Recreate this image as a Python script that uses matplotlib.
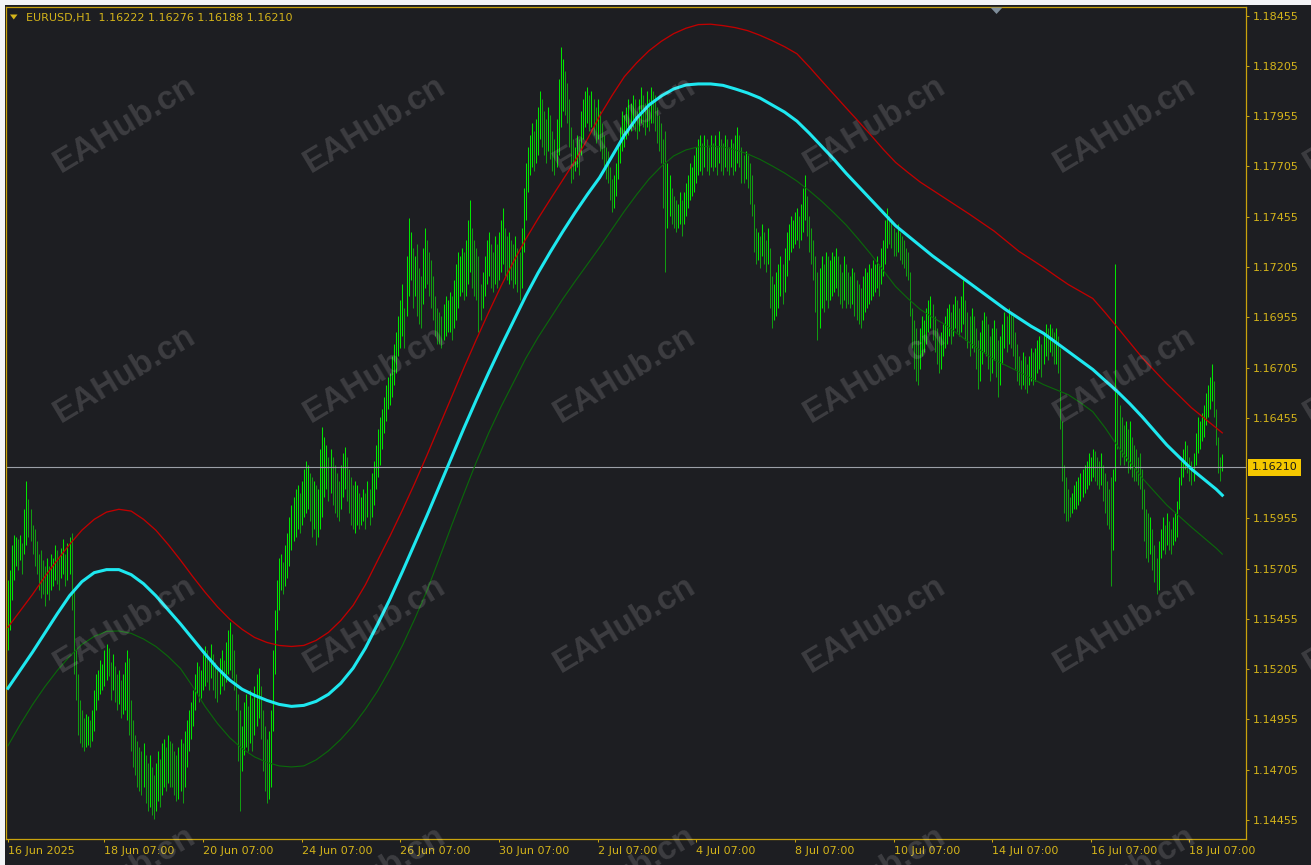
import numpy as np
import matplotlib
matplotlib.use("Agg")
import matplotlib.pyplot as plt
from matplotlib.patches import Rectangle, Polygon
from matplotlib.transforms import blended_transform_factory

# EURUSD H1 - barres en pips au-dessus de BASE
BASE = 1.14
PIP = 0.0001

highs = [
    165, 170, 182, 187, 186, 185, 187, 183, 200, 214,
    205, 200, 192, 190, 184, 178, 180, 175, 172, 176,
    172, 178, 176, 182, 180, 176, 181, 185, 178, 183,
    186, 188, 160, 130, 118, 105, 100, 96, 98, 97,
    95, 100, 110, 118, 120, 125, 123, 130, 133, 131,
    124, 128, 122, 118, 120, 115, 118, 124, 130, 126,
    105, 95, 88, 85, 82, 80, 84, 78, 74, 78,
    72, 68, 74, 80, 76, 84, 86, 82, 88, 85,
    84, 80, 78, 82, 86, 84, 90, 95, 100, 104,
    110, 118, 124, 122, 120, 128, 132, 130, 126, 133,
    128, 124, 120, 126, 130, 125, 134, 140, 144, 138,
    130, 118, 108, 100, 92, 104, 108, 102, 110, 106,
    112, 118, 121, 112, 100, 92, 86, 90, 100, 130,
    150, 165, 176, 178, 174, 182, 188, 196, 202, 206,
    210, 212, 208, 214, 220, 224, 222, 218, 216, 214,
    212, 210, 230, 241, 236, 232, 226, 230, 226, 222,
    218, 214, 222, 228, 231, 226, 220, 216, 212, 214,
    212, 208, 206, 210, 208, 214, 210, 218, 224, 232,
    240, 246, 250, 256, 262, 266, 268, 276, 282, 288,
    296, 304, 312, 300, 326, 345, 338, 330, 326, 332,
    320, 316, 330, 340, 334, 328, 324, 316, 306, 300,
    298, 296, 302, 306, 304, 308, 306, 314, 322, 328,
    326, 330, 328, 334, 344, 354, 340, 334, 330, 326,
    312, 318, 326, 334, 338, 332, 328, 336, 332, 338,
    344, 350, 340, 336, 338, 334, 332, 336, 330, 328,
    340, 360, 372, 380, 386, 392, 388, 394, 400, 408,
    404, 398, 394, 400, 396, 388, 384, 394, 414, 430,
    424, 418, 412, 404, 390, 384, 380, 386, 384, 398,
    404, 408, 410, 406, 408, 404, 400, 404, 398, 392,
    386, 380, 378, 370, 364, 366, 372, 382, 390, 398,
    396, 400, 404, 402, 406, 404, 398, 404, 410, 406,
    402, 408, 404, 410, 408, 406, 400, 396, 392, 384,
    388, 372, 366, 360, 356, 354, 352, 358, 354, 358,
    362, 366, 372, 370, 376, 380, 384, 386, 382, 386,
    384, 380, 386, 382, 386, 380, 388, 384, 382, 386,
    384, 380, 384, 382, 386, 390, 386, 380, 376, 378,
    376, 372, 366, 352, 340, 338, 336, 342, 338, 334,
    340, 330, 316, 312, 318, 322, 326, 322, 330, 338,
    342, 346, 344, 348, 350, 346, 352, 360, 366, 356,
    346, 340, 334, 326, 318, 320, 326, 322, 328, 326,
    324, 328, 326, 330, 326, 322, 318, 326, 322, 318,
    316, 320, 318, 314, 312, 310, 316, 320, 318, 322,
    320, 324, 322, 326, 322, 330, 334, 344, 350, 346,
    344, 340, 338, 342, 338, 336, 334, 330, 328, 318,
    300, 294, 290, 284, 290, 296, 294, 300, 304, 306,
    302, 296, 290, 286, 288, 292, 296, 300, 302, 298,
    302, 306, 304, 300, 306, 314, 304, 298, 296, 300,
    296, 290, 284, 288, 294, 298, 296, 292, 286, 290,
    294, 290, 284, 286, 292, 298, 296, 300, 298, 296,
    288, 282, 276, 274, 278, 276, 272, 276, 280, 278,
    280, 284, 286, 282, 288, 292, 290, 292, 290, 288,
    290, 286, 280, 244, 222, 216, 210, 206, 208, 212,
    214, 216, 218, 220, 222, 224, 228, 226, 230, 229,
    226, 224, 228, 222, 218, 214, 210, 216, 220, 322,
    258, 252, 246, 242, 244, 240, 244, 236, 232, 230,
    226, 228, 220, 210, 200, 198, 196, 190, 182, 176,
    184, 190, 196, 192, 198, 194, 190, 196, 198, 204,
    216, 224, 230, 234, 232, 226, 224, 228, 238, 246,
    244, 248, 252, 258, 262, 266, 272, 264, 250, 236,
    226, 227.6,
]

lows = [
    130, 140, 155, 165, 172, 170, 175, 168, 178, 182,
    186, 184, 178, 172, 168, 160, 156, 158, 152, 158,
    155, 160, 162, 165, 163, 160, 166, 168, 162, 165,
    168, 150, 118, 105, 88, 84, 82, 80, 82, 83,
    82, 85, 90, 100, 105, 108, 110, 112, 115, 117,
    105, 110, 104, 100, 103, 96, 98, 100, 95, 88,
    80, 72, 68, 62, 60, 58, 62, 54, 50, 52,
    48, 46, 50, 55, 52, 58, 62, 60, 64, 62,
    62, 58, 55, 56, 60, 54, 62, 72, 80, 86,
    92, 100, 108, 104, 106, 110, 112, 114, 110, 116,
    110, 106, 104, 108, 112, 110, 114, 118, 120, 116,
    110, 100, 75, 50, 70, 78, 82, 80, 84, 80,
    88, 92, 96, 86, 70, 60, 54, 56, 62, 90,
    118, 140, 150, 160, 158, 162, 166, 172, 180, 184,
    186, 190, 188, 192, 196, 198, 200, 194, 186, 190,
    182, 186, 190, 196, 206, 210, 204, 208, 202, 198,
    196, 194, 200, 206, 210, 204, 198, 192, 190, 188,
    192, 190, 192, 194, 190, 196, 192, 196, 202, 210,
    216, 222, 230, 238, 244, 250, 252, 256, 262, 268,
    276, 280, 286, 280, 296, 306, 314, 300, 306, 296,
    292, 290, 302, 310, 312, 306, 300, 294, 286, 282,
    282, 280, 284, 286, 288, 288, 284, 290, 294, 300,
    306, 308, 304, 306, 312, 318, 310, 306, 304, 288,
    294, 300, 306, 312, 316, 310, 308, 312, 310, 314,
    318, 322, 316, 314, 312, 314, 310, 312, 308, 304,
    310, 328, 344, 358, 366, 370, 368, 372, 376, 384,
    380, 376, 372, 378, 374, 368, 366, 370, 376, 390,
    398, 396, 392, 380, 362, 364, 368, 370, 366, 376,
    384, 390, 392, 388, 390, 386, 382, 384, 378, 374,
    368, 364, 362, 354, 348, 350, 356, 364, 372, 378,
    380, 384, 386, 388, 390, 388, 384, 388, 392, 390,
    386, 390, 388, 392, 392, 388, 382, 378, 372, 350,
    318, 340, 346, 342, 340, 338, 340, 342, 336, 342,
    346, 350, 354, 356, 358, 362, 366, 368, 366, 370,
    368, 366, 370, 368, 370, 366, 372, 368, 366, 370,
    368, 366, 370, 366, 368, 372, 370, 362, 362, 364,
    360, 352, 346, 328, 322, 324, 320, 326, 322, 318,
    322, 300, 290, 294, 296, 300, 306, 302, 308, 316,
    324, 328, 330, 332, 334, 330, 334, 338, 344, 336,
    328, 322, 314, 298, 284, 290, 300, 298, 304, 300,
    304, 306, 308, 310, 306, 302, 300, 304, 300, 302,
    300, 302, 296, 294, 292, 290, 294, 298, 300, 302,
    304, 306, 308, 310, 306, 312, 316, 322, 330, 332,
    330, 326, 326, 328, 324, 322, 320, 316, 314, 296,
    280, 270, 264, 262, 270, 276, 278, 282, 288, 290,
    284, 278, 272, 268, 270, 276, 280, 282, 286, 282,
    286, 290, 288, 286, 288, 292, 284, 280, 276, 280,
    278, 270, 260, 264, 272, 278, 276, 270, 264, 268,
    274, 266, 256, 262, 272, 280, 278, 282, 280, 276,
    270, 264, 262, 260, 262, 260, 258, 262, 264, 262,
    264, 268, 270, 266, 272, 276, 274, 278, 276, 272,
    272, 268, 240, 214, 198, 194, 194, 196, 198, 200,
    200, 202, 204, 206, 208, 210, 212, 214, 216, 214,
    212, 210, 212, 204, 198, 192, 190, 162, 180, 214,
    230, 222, 226, 222, 224, 218, 220, 216, 214, 214,
    212, 210, 200, 184, 176, 174, 178, 170, 164, 158,
    160, 176, 180, 178, 182, 180, 178, 182, 184, 186,
    200, 212, 216, 220, 218, 214, 212, 214, 222, 228,
    230, 234, 236, 242, 246, 250, 254, 246, 232, 218,
    214, 218.8,
]

# bandes (pips), une valeur toutes les 6 barres + derniere barre
band_idx = list(range(0, 589, 6)) + [591]
upper_band = [
    141.3, 149.5, 157.7, 166.5, 174.7, 182.5, 189.6, 195, 198.6, 200,
    199.1, 195, 189.6, 182.5, 174.7, 166.5, 158.7, 151.5, 145.3, 140.3,
    136.3, 133.8, 132.3, 131.8, 132.3, 134.8, 138.8, 144.7, 152.2, 162.5,
    174.7, 186.8, 199.6, 213, 227, 241.5, 256, 270.5, 284.5, 298,
    311, 323, 334.3, 344.5, 354.2, 363.7, 373.2, 384, 395.6, 405.7,
    415.1, 422, 428, 432.7, 436.5, 439.2, 441, 441.2, 440.5, 439.5,
    438, 435.7, 433, 430, 426.5, 420, 413.1, 406.3, 399.5, 392.8,
    386, 379, 372.5, 367.5, 362.7, 358.7, 354.7, 350.7, 346.7, 342.5,
    338.3, 333.3, 328.3, 324.3, 320.3, 316, 311.8, 308.3, 304.8, 297.8,
    290.4, 282.9, 275.4, 268.9, 262.4, 256.5, 250.5, 245.5, 240.5, 238,
]
mid_band = [
    111, 120, 129, 138.5, 148, 157, 164, 168.5, 170, 170,
    167.5, 163, 157, 150, 143, 135.5, 128, 121, 115, 110.5,
    107.5, 105, 103, 102, 102.5, 104.5, 108, 113.5, 121, 131,
    143, 155.5, 169, 183, 197, 211.5, 226, 240.5, 254.5, 268,
    281, 293.5, 306, 317.5, 328, 338, 347.5, 356.5, 365, 375.5,
    386, 394.5, 401, 405.5, 409, 411, 411.5, 411.5, 410.8, 409,
    407, 404.5, 401, 397.5, 393, 387, 380.5, 374, 367, 360.5,
    354, 347.5, 341, 336, 331, 326, 321.5, 317, 312.5, 308,
    303.5, 299, 295, 291, 287.5, 283, 278.5, 274, 269.5, 264,
    258.5, 252.5, 246, 239, 232, 226, 220, 215, 210, 207,
]
lower_band = [
    82.4, 93, 102.9, 111.8, 119.8, 126.8, 132.8, 136.8, 139.3, 139.5,
    138.3, 135.5, 131.8, 126.8, 120.8, 111.8, 101.9, 93.5, 86.4, 81,
    76.9, 74.2, 72.4, 71.9, 72.4, 75.4, 79.9, 85.6, 92.4, 100.6,
    109.8, 120.6, 132.3, 145.5, 159.7, 175.7, 192.1, 208, 223.6, 238,
    251, 263, 275, 285.5, 295, 304.5, 313.3, 321.8, 330.3, 339.3,
    348.2, 356.5, 364.2, 370.5, 375.7, 378.7, 380.2, 380.6, 380.2, 378.7,
    376.7, 374, 370.7, 367.2, 363.2, 358.4, 353.2, 347.4, 341.3, 334.2,
    326.8, 318.8, 310.8, 304.8, 299.4, 295.4, 291.9, 287.4, 282.9, 278.6,
    274.4, 271.4, 268.4, 265.2, 262, 259.5, 257, 253, 248.5, 240.5,
    231.5, 223.5, 215.6, 208.8, 202.1, 196.6, 191.1, 185.9, 180.7, 177.7,
]

tick_idx = [0, 47, 95, 143, 191, 239, 287, 335, 383, 431, 479, 527, 575]
tick_labels = ["16 Jun 2025", "18 Jun 07:00", "20 Jun 07:00", "24 Jun 07:00",
               "26 Jun 07:00", "30 Jun 07:00", "2 Jul 07:00", "4 Jul 07:00",
               "8 Jul 07:00", "10 Jul 07:00", "14 Jul 07:00", "16 Jul 07:00",
               "18 Jul 07:00"]
price_ticks = [1.14455, 1.14705, 1.14955, 1.15205, 1.15455, 1.15705, 1.15955,
               1.16455, 1.16705, 1.16955, 1.17205, 1.17455, 1.17705, 1.17955,
               1.18205, 1.18455]
last_price = 1.16210
title = "EURUSD,H1  1.16222 1.16276 1.16188 1.16210"

# couleurs
BG = "#1d1e22"
GOLD = "#c9a30c"
GOLD_TXT = "#d4b41a"
UP = "#00e600"
DOWN = "#119c11"

W, H = 1311, 865
fig = plt.figure(figsize=(W / 100, H / 100), dpi=100, facecolor=BG)

def fx(x):
    return x / W

def fy(y):
    return 1 - y / H

# zone du graphique en pixels
L, R, T, B = 5.5, 1245.7, 6.5, 839.0
ax = fig.add_axes([fx(L), fy(B), (R - L) / W, (B - T) / H])
ax.set_facecolor(BG)

hi = BASE + np.array(highs) * PIP
lo = BASE + np.array(lows) * PIP
x = np.arange(len(hi))
mid = (hi + lo) / 2
up = np.r_[True, mid[1:] >= mid[:-1]]
cols = [UP if u else DOWN for u in up]
ax.vlines(x, lo, hi, colors=cols, linewidth=0.72, snap=True, zorder=2)

bx = np.array(band_idx)
ax.plot(bx, BASE + np.array(upper_band) * PIP, color="#c00000", lw=0.95, zorder=3)
ax.plot(bx, BASE + np.array(lower_band) * PIP, color="#0a6a0a", lw=0.8, zorder=3)
ax.plot(bx, BASE + np.array(mid_band) * PIP, color="#1ee8f0", lw=2.2, zorder=4)

ax.axhline(last_price, color="#9ca0a8", lw=0.8, zorder=2.5)

ax.set_xlim(-1.17, 602.4)
ax.set_ylim(1.143606, 1.185)

ax.set_xticks(tick_idx)
ax.set_xticklabels(tick_labels, ha="left")
ax.yaxis.tick_right()
ax.set_yticks(price_ticks)
ax.set_yticklabels(["%.5f" % p for p in price_ticks])
ax.tick_params(axis="both", direction="out", length=2.2, width=0.75,
               color=GOLD, labelcolor=GOLD_TXT, labelsize=8, pad=3)
for s in ax.spines.values():
    s.set_color(GOLD)
    s.set_linewidth(0.9)

# etiquette du prix courant
tr = blended_transform_factory(ax.transAxes, ax.transData)
ax.text(1 + (1251.5 - R) / (R - L), last_price, "%.5f" % last_price, transform=tr,
        ha="left", va="center", fontsize=8, color="#1a1a1a",
        bbox=dict(boxstyle="square,pad=0.32", facecolor="#f5c800", edgecolor="none"),
        zorder=6)

# bandes claires en haut et a gauche
fig.patches.append(Rectangle((0, fy(5)), 1, 5 / H, transform=fig.transFigure,
                             facecolor="#f3f4f6", edgecolor="none"))
fig.patches.append(Rectangle((0, 0), fx(4.5), 1, transform=fig.transFigure,
                             facecolor="#f3f4f6", edgecolor="none"))

# titre
fig.patches.append(Polygon([(fx(10), fy(14.5)), (fx(17.5), fy(14.5)), (fx(13.75), fy(19.5))],
                           closed=True, transform=fig.transFigure,
                           facecolor=GOLD_TXT, edgecolor="none", zorder=5))
fig.text(fx(26), fy(17.5), title, color=GOLD_TXT, fontsize=8, va="center", ha="left")

# marqueur de decalage du graphique
fig.patches.append(Polygon([(fx(990.5), fy(7.5)), (fx(1002.5), fy(7.5)), (fx(996.5), fy(14))],
                           closed=True, transform=fig.transFigure,
                           facecolor="#7e8d9a", edgecolor="none", zorder=5))

# filigrane (la derniere rangee est coupee par le bas, comme sur l'original)
for cx in [125, 375, 625, 875, 1125, 1375]:
    for cy in [125, 375, 625, 875]:
        fig.text(fx(cx), fy(cy), "EAHub.cn", rotation=31, ha="center", va="center",
                 rotation_mode="anchor", fontsize=24, fontweight="bold",
                 family="Liberation Sans", color="white", alpha=0.14, zorder=10)

fig.savefig("out.png", dpi=100, facecolor=BG)
